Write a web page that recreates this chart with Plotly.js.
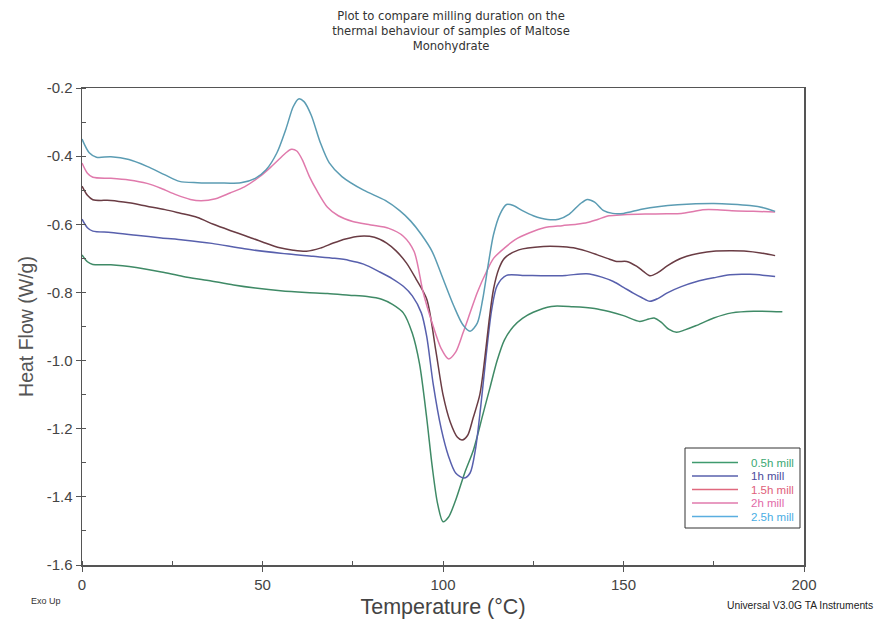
<!DOCTYPE html>
<html>
<head>
<meta charset="utf-8">
<script src="https://cdn.plot.ly/plotly-3.0.1.min.js"></script>
<style>html,body{margin:0;padding:0;background:#fff;}#chart{width:883px;height:621px;}</style>
</head>
<body>
<div id="chart"></div>
<script>
// ---- Data (Temperature °C, Heat Flow W/g) ----
const seriesNames = ["0.5h mill", "1h mill", "1.5h mill", "2h mill", "2.5h mill"];

const t05 = [0, 1.5, 3, 8, 15, 22, 28, 35, 42, 48, 55, 62, 68, 74, 79, 83, 86, 89, 91.5, 93.5, 95.5, 97, 98.5, 100, 101.5, 103.5, 106, 108.5, 111, 113, 115, 117, 119.5, 122, 125, 130, 136, 142, 146, 150, 154.5, 157, 158.5, 160.5, 162.5, 164.7, 167, 170, 175, 180, 186, 194];
const hf05 = [-0.69, -0.71, -0.718, -0.719, -0.727, -0.74, -0.753, -0.765, -0.778, -0.787, -0.795, -0.8, -0.803, -0.808, -0.812, -0.82, -0.835, -0.86, -0.92, -1.01, -1.17, -1.31, -1.42, -1.473, -1.46, -1.41, -1.33, -1.26, -1.16, -1.08, -1.0, -0.94, -0.9, -0.876, -0.858, -0.841, -0.842, -0.847, -0.856, -0.868, -0.885, -0.878, -0.875, -0.888, -0.908, -0.917, -0.91, -0.898, -0.875, -0.86, -0.855, -0.857];

const t1 = [0, 1.5, 3, 8, 15, 22, 28, 36, 45, 55, 64, 70, 74, 78, 82.5, 86, 89, 91.5, 94, 95.5, 97.3, 99.5, 101.5, 103.5, 105.8, 107.5, 109, 110.5, 112, 113.5, 115, 117.6, 122, 128.7, 134, 139.8, 144, 147.2, 150, 152.7, 155, 157.3, 159.5, 162, 166, 170.3, 175, 179.5, 185, 192];
const hf1 = [-0.585, -0.61, -0.62, -0.624, -0.632, -0.64, -0.646, -0.656, -0.672, -0.685, -0.694, -0.7, -0.706, -0.717, -0.74, -0.76, -0.782, -0.81, -0.86, -0.93, -1.07, -1.2, -1.28, -1.33, -1.345, -1.33, -1.26, -1.13, -0.98, -0.85, -0.78, -0.75, -0.75, -0.751, -0.75, -0.745, -0.755, -0.768, -0.785, -0.802, -0.815, -0.826, -0.818, -0.802, -0.783, -0.768, -0.757, -0.748, -0.747, -0.753];

const t15 = [0, 1.5, 3, 8, 13, 18, 23, 27, 32, 36.4, 41, 45.6, 50, 54.8, 58.5, 62.2, 66, 69.6, 73, 77, 81, 84.4, 87, 89.9, 92.5, 95.5, 98, 100, 102, 104, 105.3, 106.8, 108.3, 110.2, 111.5, 112.8, 114, 115.5, 117, 121, 127.8, 132, 136.1, 139.5, 142.6, 145.5, 148.1, 150.9, 153.6, 155.5, 157.3, 159.5, 162, 164.5, 167.5, 171, 174.9, 180, 184.1, 188, 192];
const hf15 = [-0.488, -0.515, -0.528, -0.53, -0.537, -0.547, -0.557, -0.567, -0.58, -0.6, -0.618, -0.635, -0.652, -0.669, -0.676, -0.679, -0.67, -0.655, -0.643, -0.635, -0.638, -0.655, -0.678, -0.714, -0.76, -0.82, -0.97, -1.1, -1.18, -1.225, -1.233, -1.22, -1.17, -1.1, -1.0, -0.88, -0.79, -0.73, -0.7, -0.675, -0.665, -0.665, -0.669, -0.678, -0.689, -0.7, -0.709, -0.709, -0.723, -0.738, -0.751, -0.742, -0.723, -0.707, -0.694, -0.685, -0.679, -0.678, -0.679, -0.684, -0.692];

const t2 = [0, 1.5, 3, 8, 13, 18, 22, 26, 30, 33, 37, 41, 45, 49, 52, 54.5, 56.5, 58, 59.5, 61, 63, 65, 68, 71, 75, 80, 85, 89, 92, 94.5, 97, 99.5, 101.5, 103.5, 105.5, 107.5, 109.5, 112, 114, 117, 120, 124, 128, 133, 137, 140, 143, 146, 150, 156, 162, 166, 169, 172, 176, 180, 186, 192];
const hf2 = [-0.42, -0.45, -0.462, -0.465, -0.47, -0.48, -0.495, -0.513, -0.527, -0.531, -0.525, -0.508, -0.49, -0.462, -0.435, -0.41, -0.39, -0.38, -0.385, -0.41, -0.46, -0.5, -0.55, -0.575, -0.592, -0.602, -0.612, -0.635, -0.68, -0.8, -0.89, -0.965, -0.995, -0.975, -0.92, -0.86, -0.8, -0.74, -0.7, -0.67, -0.645, -0.625, -0.61, -0.604, -0.6, -0.595, -0.585, -0.575, -0.572, -0.57, -0.569, -0.568, -0.563, -0.557, -0.557, -0.56, -0.562, -0.564];

const t25 = [0, 2, 4, 8, 13, 18, 23, 27, 32, 38, 44, 48, 51, 54, 56.5, 58.5, 60, 61.5, 63.5, 66, 68.5, 72, 78, 84, 88, 91, 94, 97, 100, 103, 105.5, 107.5, 109.5, 111, 112.5, 114, 115.8, 117.6, 119.5, 122, 125, 129, 132, 135, 138, 140, 142, 144.5, 147, 150, 155, 160, 165, 170, 175, 180, 185, 189, 192];
const hf25 = [-0.35, -0.39, -0.403, -0.402, -0.41, -0.43, -0.455, -0.474, -0.478, -0.479, -0.478, -0.465, -0.44, -0.39, -0.32, -0.255, -0.232, -0.24, -0.28, -0.36, -0.42, -0.46, -0.5, -0.53, -0.56, -0.59, -0.63, -0.68, -0.76, -0.84, -0.895, -0.914, -0.89, -0.82, -0.72, -0.63, -0.57, -0.542, -0.545, -0.56, -0.575, -0.586, -0.585, -0.57, -0.54, -0.527, -0.535, -0.56, -0.568, -0.568, -0.556, -0.548, -0.543, -0.54, -0.539, -0.541, -0.545, -0.552, -0.562];

const xTickVals = [0, 50, 100, 150, 200];
const xTickText = ["0", "50", "100", "150", "200"];
const yTickVals = [-0.2, -0.4, -0.6, -0.8, -1.0, -1.2, -1.4, -1.6];
const yTickText = ["-0.2", "-0.4", "-0.6", "-0.8", "-1.0", "-1.2", "-1.4", "-1.6"];

// ---- Styling ----
const lineColors = ["#3f8a66", "#5860ad", "#6a3c44", "#e07aac", "#5b9cb3"];
const legendLineColors = ["#3f9a6e", "#5860ad", "#e0687e", "#e07aac", "#5aaee0"];
const legendTextColors = ["#3aa873", "#4b4c9c", "#e0607a", "#e26aa8", "#4aaee4"];
const xs = [t05, t1, t15, t2, t25];
const ys = [hf05, hf1, hf15, hf2, hf25];

const FONT = "Liberation Sans, Arial, sans-serif";

const traces = seriesNames.map((n, i) => ({
  x: xs[i], y: ys[i], type: "scatter", mode: "lines", name: n,
  line: { color: lineColors[i], width: 1.5, shape: "spline", smoothing: 0.8 },
  hoverinfo: "skip", showlegend: false
}));

// plot area in pixels (for placing the boxed legend like the original)
const PL = 82, PR = 804, PT = 88, PB = 565;
const px2x = p => (p - PL) / (PR - PL);
const py2y = p => (PB - p) / (PB - PT);

const shapes = [
  { type: "rect", xref: "paper", yref: "paper", x0: px2x(685), x1: px2x(800), y0: py2y(448), y1: py2y(528),
    line: { color: "#333", width: 1 }, fillcolor: "#ffffff", layer: "above" }
];
const annotations = [
  { text: "Exo Up", xref: "paper", yref: "paper", x: px2x(46), y: py2y(601),
    showarrow: false, font: { family: FONT, size: 9, color: "#333" }, xanchor: "center", yanchor: "middle" },
  { text: "Universal V3.0G TA Instruments", xref: "paper", yref: "paper", x: px2x(800), y: py2y(605),
    showarrow: false, font: { family: FONT, size: 10.3, color: "#222" }, xanchor: "center", yanchor: "middle" }
];
seriesNames.forEach((n, i) => {
  const rowY = 462.5 + i * 13.5;
  shapes.push({ type: "line", xref: "paper", yref: "paper", x0: px2x(692), x1: px2x(738), y0: py2y(rowY), y1: py2y(rowY),
    line: { color: legendLineColors[i], width: 1.5 }, layer: "above" });
  annotations.push({ text: n, xref: "paper", yref: "paper", x: px2x(749), y: py2y(rowY),
    xanchor: "left", yanchor: "middle", showarrow: false,
    font: { family: FONT, size: 11.5, color: legendTextColors[i] } });
});

const layout = {
  width: 883, height: 621,
  margin: { l: PL, r: 883 - PR, t: PT, b: 621 - PB, autoexpand: false },
  paper_bgcolor: "#ffffff", plot_bgcolor: "#ffffff",
  font: { family: FONT, color: "#444" },
  title: {
    text: "Plot to compare milling duration on the<br>thermal behaviour of samples of Maltose<br>Monohydrate",
    font: { family: "DejaVu Sans, sans-serif", size: 11.6, color: "#333" },
    x: 451 / 883, xanchor: "center", xref: "container",
    y: 1 - 20 / 621, yanchor: "top", yref: "container"
  },
  xaxis: {
    range: [0, 200], tickvals: xTickVals, ticktext: xTickText,
    ticks: "outside", ticklen: 5, tickwidth: 1, tickcolor: "#555",
    minor: { dtick: 25, tick0: 0, ticks: "inside", ticklen: 4, tickcolor: "#555", showgrid: false },
    showline: true, linecolor: "#555", linewidth: 1.5, mirror: true,
    showgrid: false, zeroline: false,
    tickfont: { family: FONT, size: 15, color: "#444" },
    title: { text: "Temperature (°C)", font: { family: FONT, size: 21.5, color: "#444" }, standoff: 7 }
  },
  yaxis: {
    range: [-1.6, -0.2], tickvals: yTickVals, ticktext: yTickText,
    ticks: "outside", ticklen: 5, tickwidth: 1, tickcolor: "#555",
    minor: { dtick: 0.1, tick0: -0.2, ticks: "inside", ticklen: 4, tickcolor: "#555", showgrid: false },
    showline: true, linecolor: "#555", linewidth: 1.5, mirror: true,
    showgrid: false, zeroline: false,
    tickfont: { family: FONT, size: 15, color: "#444" },
    title: { text: "Heat Flow (W/g)", font: { family: FONT, size: 19.5, color: "#555" }, standoff: 8 }
  },
  showlegend: false,
  shapes: shapes,
  annotations: annotations
};

Plotly.newPlot("chart", traces, layout, { staticPlot: true, displayModeBar: false });
</script>
</body>
</html>
